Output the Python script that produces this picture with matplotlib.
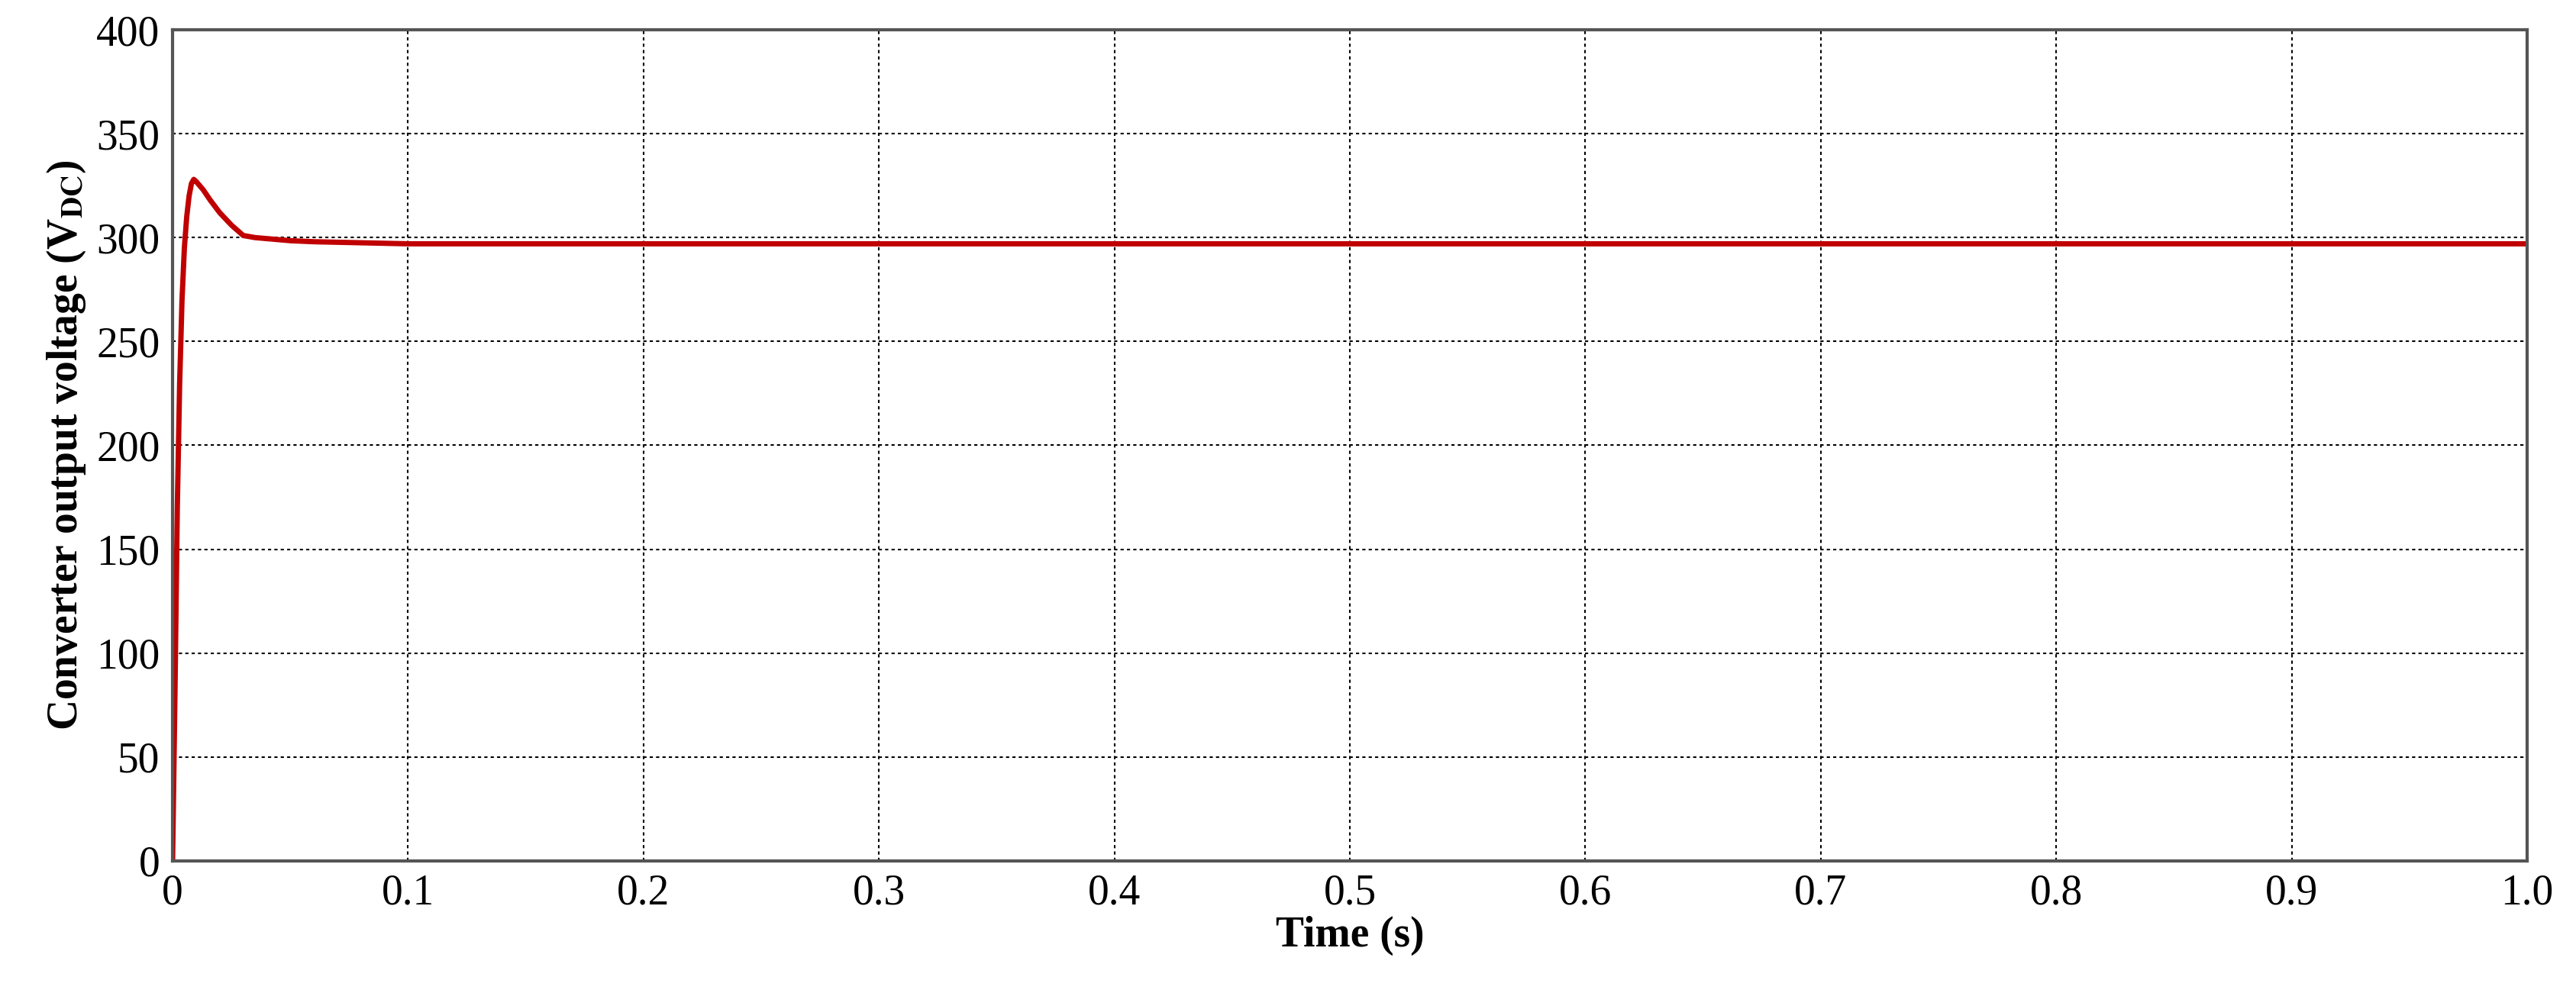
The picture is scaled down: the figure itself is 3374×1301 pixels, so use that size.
import matplotlib
matplotlib.use("Agg")
import matplotlib.pyplot as plt

t = [0, 0.001, 0.002, 0.003, 0.004, 0.005, 0.006, 0.007, 0.008, 0.009, 0.010, 0.013, 0.016, 0.020, 0.025, 0.030, 0.035, 0.040, 0.050, 0.060, 0.080, 0.100, 0.200, 0.400, 0.600, 0.800, 1.0]
v = [0, 80, 170, 230, 270, 295, 310, 320, 326, 328, 327, 323, 318, 312, 306, 301, 300, 299.5, 298.5, 298, 297.5, 297, 297, 297, 297, 297, 297]

plt.rcParams['font.family'] = ['Liberation Serif', 'DejaVu Serif']
plt.rcParams['mathtext.fontset'] = 'stix'
fig = plt.figure(figsize=(33.74, 13.01), dpi=100)
ax = fig.add_axes([0.067, 0.133, 0.914, 0.837])
ax.plot(t, v, color='#c00000', lw=5)
ax.set_xlim(0, 1.0)
ax.set_ylim(0, 400)
ax.set_xticks([i / 10 for i in range(11)])
ax.set_xticklabels(['0'] + [f'{i/10:.1f}' for i in range(1, 11)])
ax.set_yticks(range(0, 401, 50))
ax.grid(True, color='black', linestyle=(0, (2, 2)), lw=1.5)
ax.tick_params(labelsize=40, direction='in', length=0, pad=12)
for s in ax.spines.values():
    s.set_color('#555555'); s.set_linewidth(3)
ax.set_xlabel('Time (s)', fontsize=40, fontweight='bold', labelpad=2)
ax.set_ylabel(r'Converter output voltage (V$_{\mathbf{DC}}$)', fontsize=40, fontweight='bold', labelpad=8)
fig.savefig('out.png', dpi=100)
